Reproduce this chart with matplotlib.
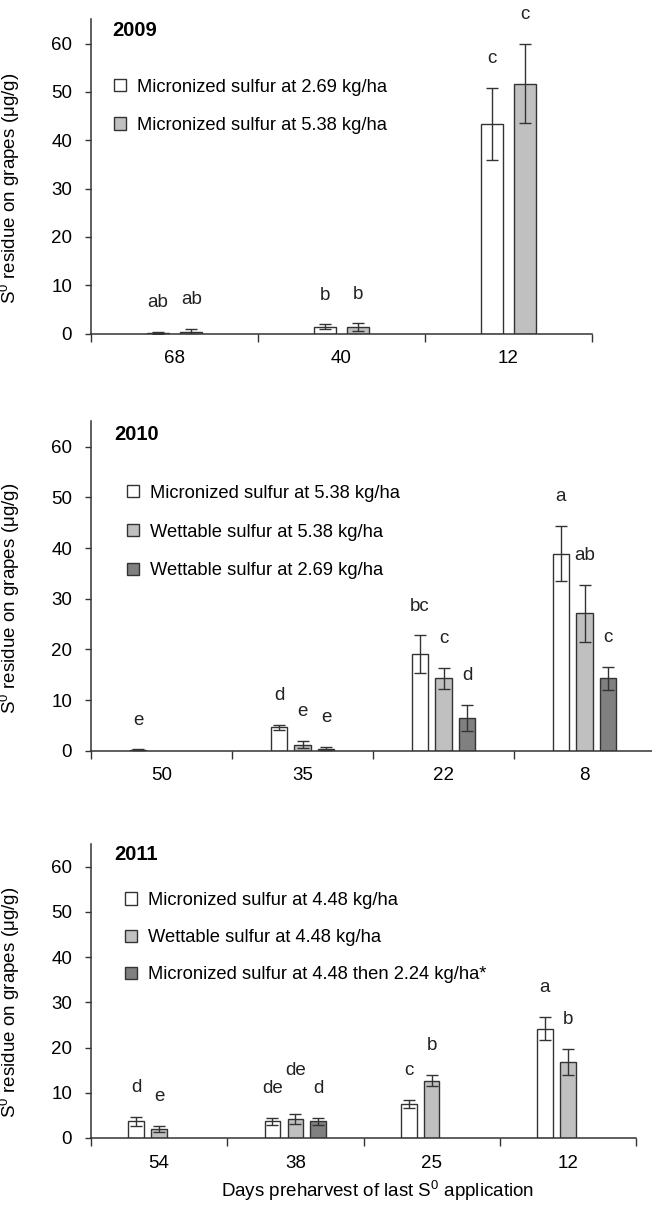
import numpy as np
import matplotlib
matplotlib.use("Agg")
import matplotlib.pyplot as plt
import matplotlib.transforms as mtransforms

plt.rcParams["font.family"] = ["Liberation Sans", "DejaVu Sans"]
plt.rcParams["mathtext.fontset"] = "custom"
plt.rcParams["mathtext.rm"] = "Liberation Sans"

nan = np.nan

# 2009
days_2009 = ["68", "40", "12"]
mic269_2009 = [0.2, 1.4, 43.4]
mic269_2009_err = [0.2, 0.5, 7.5]
mic269_2009_let = ["ab", "b", "c"]
mic538_2009 = [0.3, 1.3, 51.7]
mic538_2009_err = [0.7, 0.8, 8.2]
mic538_2009_let = ["ab", "b", "c"]

# 2010
days_2010 = ["50", "35", "22", "8"]
mic538_2010 = [0.2, 4.6, 19.1, 38.9]
mic538_2010_err = [0.1, 0.5, 3.7, 5.5]
mic538_2010_let = ["e", "d", "bc", "a"]
wet538_2010 = [nan, 1.2, 14.3, 27.1]
wet538_2010_err = [nan, 0.7, 2.1, 5.6]
wet538_2010_let = [None, "e", "c", "ab"]
wet269_2010 = [nan, 0.4, 6.4, 14.3]
wet269_2010_err = [nan, 0.3, 2.6, 2.3]
wet269_2010_let = [None, "e", "d", "c"]

# 2011
days_2011 = ["54", "38", "25", "12"]
mic448_2011 = [3.7, 3.7, 7.6, 24.2]
mic448_2011_err = [0.95, 0.75, 0.9, 2.6]
mic448_2011_let = ["d", "de", "c", "a"]
wet448_2011 = [2.0, 4.3, 12.7, 16.8]
wet448_2011_err = [0.65, 1.1, 1.25, 2.9]
wet448_2011_let = ["e", "de", "b", "b"]
mic448_224_2011 = [nan, 3.7, nan, nan]
mic448_224_2011_err = [nan, 0.75, nan, nan]
mic448_224_2011_let = [None, "d", None, None]

W, H = 652, 1207
fig = plt.figure(figsize=(W / 100, H / 100), dpi=100)

WHITE, LIGHT, DARK = "#ffffff", "#c0c0c0", "#808080"
EDGE = "#333333"


def add_px_axes(l, t, r, b):
    return fig.add_axes([l / W, 1 - b / H, (r - l) / W, (b - t) / H])


def draw_panel(ax, cats, series, offsets, width, year, year_xy, leg_xy, lab_sp,
               nudge=None):
    nudge = nudge or {}
    x = np.arange(len(cats))
    for si, ((vals, errs, lets, color, label), off) in enumerate(zip(series, offsets)):
        ax.bar(x + off, vals, width, yerr=errs, color=color, edgecolor=EDGE,
               linewidth=1.0, label=label, capsize=4,
               error_kw=dict(ecolor=EDGE, elinewidth=1.0, capthick=1.0))
        for ci, (xi, v, e, t) in enumerate(zip(x, vals, errs, lets)):
            if t is None:
                continue
            dy = 21 + nudge.get((si, ci), 0)
            ax.annotate(t, (xi + off, v + e), xytext=(0, dy), textcoords="offset points",
                        ha="center", va="center", fontsize=13.5, color="#222222")

    n = len(cats)
    ax.set_xlim(-0.5, n - 0.5)
    ax.set_ylim(0, 65)
    ax.set_yticks(range(0, 61, 10))
    ax.set_xticks(np.arange(n + 1) - 0.5)
    ax.set_xticklabels([])
    ax.set_xticks(x, minor=True)
    ax.set_xticklabels(cats, minor=True)
    ax.tick_params(axis="x", which="major", direction="out", length=6, width=1, color=EDGE)
    ax.tick_params(axis="x", which="minor", length=0, pad=12, labelsize=13.5)
    ax.tick_params(axis="y", direction="out", length=4.5, width=1, color=EDGE, pad=9, labelsize=13.5)
    for s in ["top", "right"]:
        ax.spines[s].set_visible(False)
    for s in ["left", "bottom"]:
        ax.spines[s].set_color(EDGE)
        ax.spines[s].set_linewidth(1.1)

    ax.set_ylabel(r"S$\mathregular{^0}$ residue on grapes (μg/g)", fontsize=13.5)
    trans = mtransforms.blended_transform_factory(ax.transAxes, ax.transData)
    bb = ax.get_position()
    ax.yaxis.set_label_coords((22 / W - bb.x0) / bb.width, 30, transform=trans)

    fig.text(year_xy[0] / W, 1 - year_xy[1] / H, year, fontsize=14.5, fontweight="bold",
             ha="left", va="center")
    ax.legend(loc="upper left", bbox_to_anchor=(leg_xy[0] / W, 1 - leg_xy[1] / H),
              bbox_transform=fig.transFigure, frameon=False, fontsize=13.2,
              borderpad=0, borderaxespad=0, handlelength=0.66, handleheight=0.66,
              handletextpad=0.6, labelspacing=lab_sp)


ax1 = add_px_axes(91, 19.4, 592, 333.5)
draw_panel(ax1, days_2009,
           [(mic269_2009, mic269_2009_err, mic269_2009_let, WHITE, "Micronized sulfur at 2.69 kg/ha"),
            (mic538_2009, mic538_2009_err, mic538_2009_let, LIGHT, "Micronized sulfur at 5.38 kg/ha")],
           [-0.1, 0.1], 0.133, "2009", (112, 31), (114, 78.5), 1.17)

ax2 = add_px_axes(91, 421.4, 655, 750.7)
draw_panel(ax2, days_2010,
           [(mic538_2010, mic538_2010_err, mic538_2010_let, WHITE, "Micronized sulfur at 5.38 kg/ha"),
            (wet538_2010, wet538_2010_err, wet538_2010_let, LIGHT, "Wettable sulfur at 5.38 kg/ha"),
            (wet269_2010, wet269_2010_err, wet269_2010_let, DARK, "Wettable sulfur at 2.69 kg/ha")],
           [-0.167, 0, 0.167], 0.115, "2010", (114, 434.5), (127, 484.7), 1.19)

ax3 = add_px_axes(91, 844, 636, 1138)
draw_panel(ax3, days_2011,
           [(mic448_2011, mic448_2011_err, mic448_2011_let, WHITE, "Micronized sulfur at 4.48 kg/ha"),
            (wet448_2011, wet448_2011_err, wet448_2011_let, LIGHT, "Wettable sulfur at 4.48 kg/ha"),
            (mic448_224_2011, mic448_224_2011_err, mic448_224_2011_let, DARK,
             "Micronized sulfur at 4.48 then 2.24 kg/ha*")],
           [-0.168, 0, 0.168], 0.114, "2011", (114, 855), (125, 892), 1.1,
           nudge={(1, 1): 10})

fig.text(378 / W, 1 - 1191 / H, r"Days preharvest of last S$\mathregular{^0}$ application",
         fontsize=13.5, ha="center", va="center")

fig.savefig("out.png", dpi=100)
